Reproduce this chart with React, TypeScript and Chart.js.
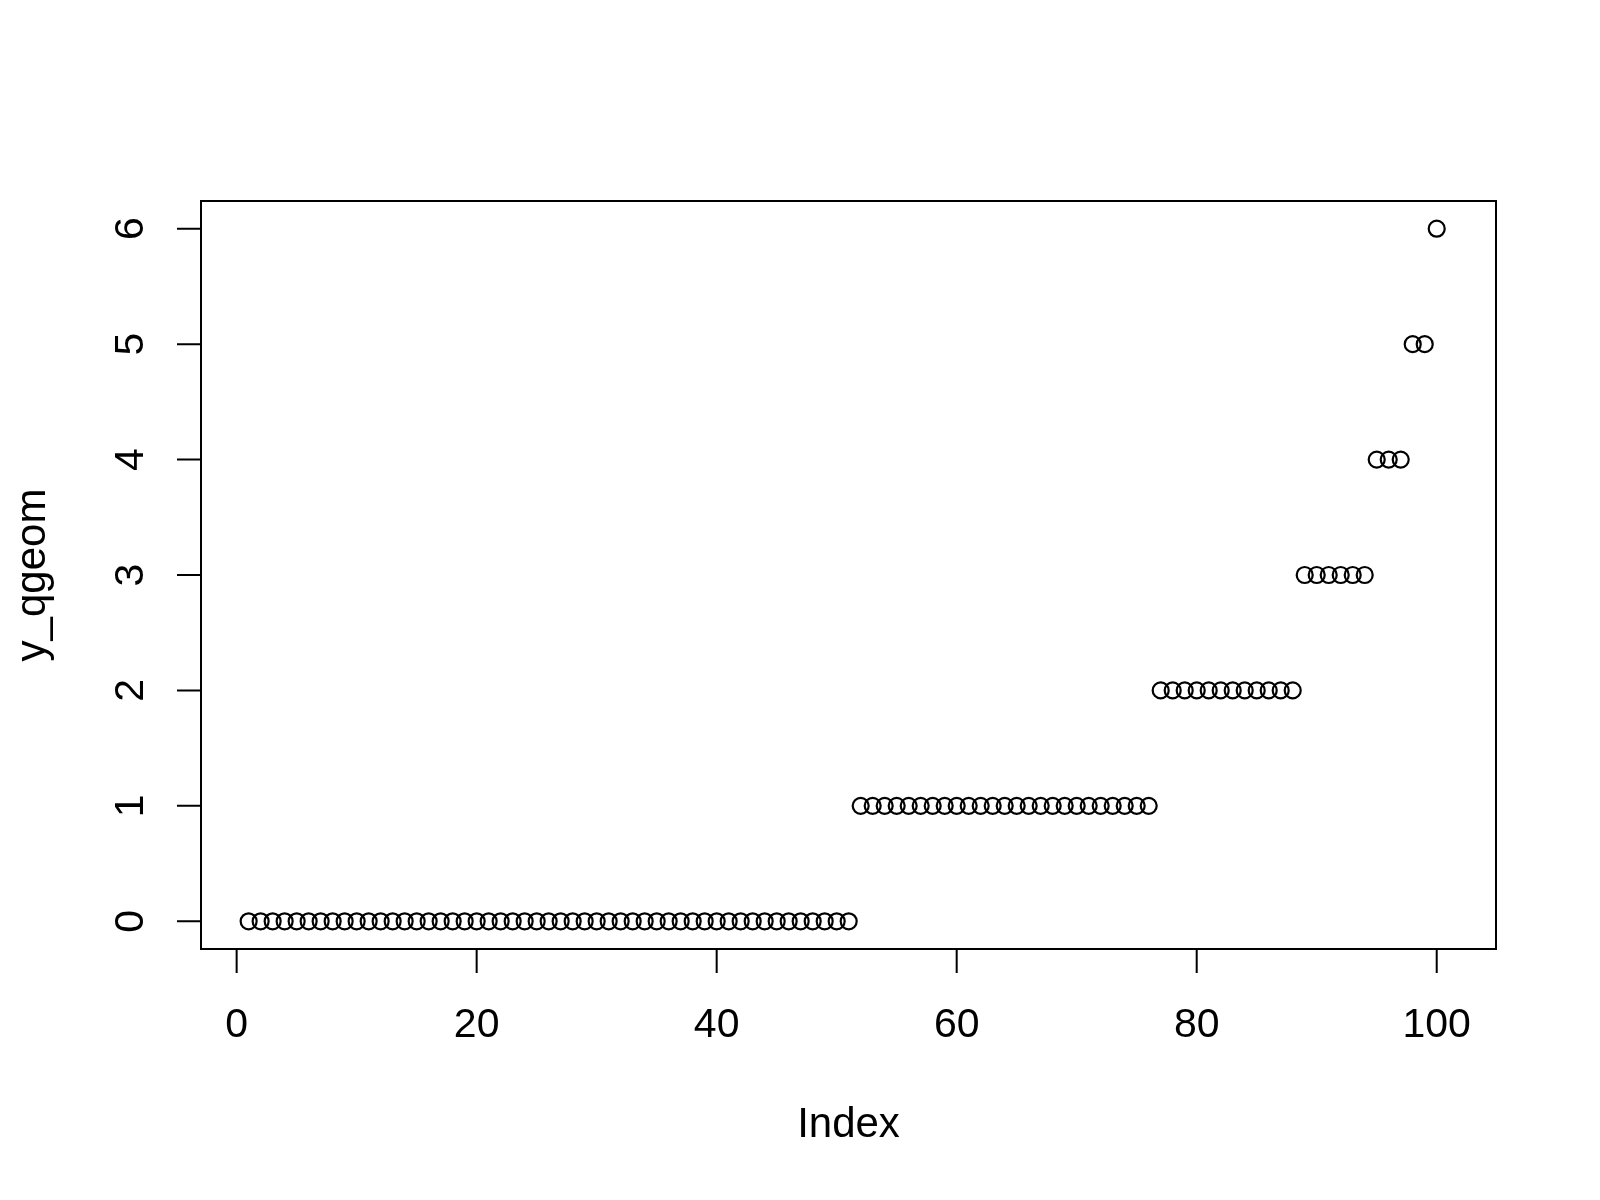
import { useEffect, useRef } from 'react';
import { Chart, registerables } from 'chart.js';

Chart.register(...registerables);

// tick positions
const xTicks = [0, 20, 40, 60, 80, 100];
const yTicks = [0, 1, 2, 3, 4, 5, 6];

// y_qgeom, sorted, plotted against its index 1..100
const yQgeom = [
  0, 0, 0, 0, 0, 0, 0, 0, 0, 0,
  0, 0, 0, 0, 0, 0, 0, 0, 0, 0,
  0, 0, 0, 0, 0, 0, 0, 0, 0, 0,
  0, 0, 0, 0, 0, 0, 0, 0, 0, 0,
  0, 0, 0, 0, 0, 0, 0, 0, 0, 0,
  0, 1, 1, 1, 1, 1, 1, 1, 1, 1,
  1, 1, 1, 1, 1, 1, 1, 1, 1, 1,
  1, 1, 1, 1, 1, 1, 2, 2, 2, 2,
  2, 2, 2, 2, 2, 2, 2, 2, 3, 3,
  3, 3, 3, 3, 4, 4, 4, 5, 5, 6,
];

const TICK_FONT = '41px "Liberation Sans", Arial, sans-serif';
const TITLE_FONT = '42px "Liberation Sans", Arial, sans-serif';

// R-style base graphics axes: box, outward ticks, labels, axis titles
const rAxes = {
  id: 'rAxes',
  afterDraw(chart: Chart) {
    const { ctx, chartArea: a } = chart;
    const x = chart.scales.x;
    const y = chart.scales.y;
    ctx.save();
    ctx.strokeStyle = '#000';
    ctx.fillStyle = '#000';
    ctx.lineWidth = 2;
    ctx.strokeRect(a.left, a.top, a.right - a.left, a.bottom - a.top);

    ctx.beginPath();
    xTicks.forEach((v) => {
      const px = x.getPixelForValue(v);
      ctx.moveTo(px, a.bottom);
      ctx.lineTo(px, a.bottom + 24);
    });
    yTicks.forEach((v) => {
      const py = y.getPixelForValue(v);
      ctx.moveTo(a.left, py);
      ctx.lineTo(a.left - 24, py);
    });
    ctx.stroke();

    ctx.font = TICK_FONT;
    ctx.textAlign = 'center';
    ctx.textBaseline = 'alphabetic';
    xTicks.forEach((v) => {
      ctx.fillText(String(v), x.getPixelForValue(v), a.bottom + 88);
    });
    yTicks.forEach((v) => {
      ctx.save();
      ctx.translate(a.left - 58, y.getPixelForValue(v));
      ctx.rotate(-Math.PI / 2);
      ctx.fillText(String(v), 0, 0);
      ctx.restore();
    });

    ctx.font = TITLE_FONT;
    ctx.fillText('Index', (a.left + a.right) / 2, a.bottom + 188);
    ctx.save();
    ctx.translate(45, (a.top + a.bottom) / 2);
    ctx.rotate(-Math.PI / 2);
    ctx.fillText('y_qgeom', 0, 0);
    ctx.restore();
    ctx.restore();
  },
};

export default function App() {
  const chartRef = useRef<HTMLCanvasElement>(null);
  const chartInstance = useRef<Chart | null>(null);

  useEffect(() => {
    document.body.style.margin = '0';
    if (!chartRef.current) return;
    if (chartInstance.current) chartInstance.current.destroy();

    const points = yQgeom.map((v, i) => ({ x: i + 1, y: v }));

    chartInstance.current = new Chart(chartRef.current, {
      type: 'scatter',
      data: {
        datasets: [
          {
            label: 'y_qgeom',
            data: points,
            pointStyle: 'circle',
            pointRadius: 8,
            pointBorderWidth: 2.2,
            pointBorderColor: '#000',
            pointBackgroundColor: 'rgba(0,0,0,0)',
          },
        ],
      },
      options: {
        responsive: false,
        animation: false,
        devicePixelRatio: 1,
        layout: { padding: { left: 201, top: 201, right: 104, bottom: 251 } },
        plugins: { legend: { display: false }, tooltip: { enabled: false } },
        scales: {
          x: { type: 'linear', min: -2.97, max: 104.94, display: false },
          y: { type: 'linear', min: -0.24, max: 6.24, display: false },
        },
      },
      plugins: [rAxes],
    });

    return () => {
      if (chartInstance.current) {
        chartInstance.current.destroy();
        chartInstance.current = null;
      }
    };
  }, []);

  return (
    <div style={{ width: 1600, height: 1200, background: '#fff' }}>
      <canvas ref={chartRef} width={1600} height={1200} style={{ display: 'block' }} />
    </div>
  );
}
